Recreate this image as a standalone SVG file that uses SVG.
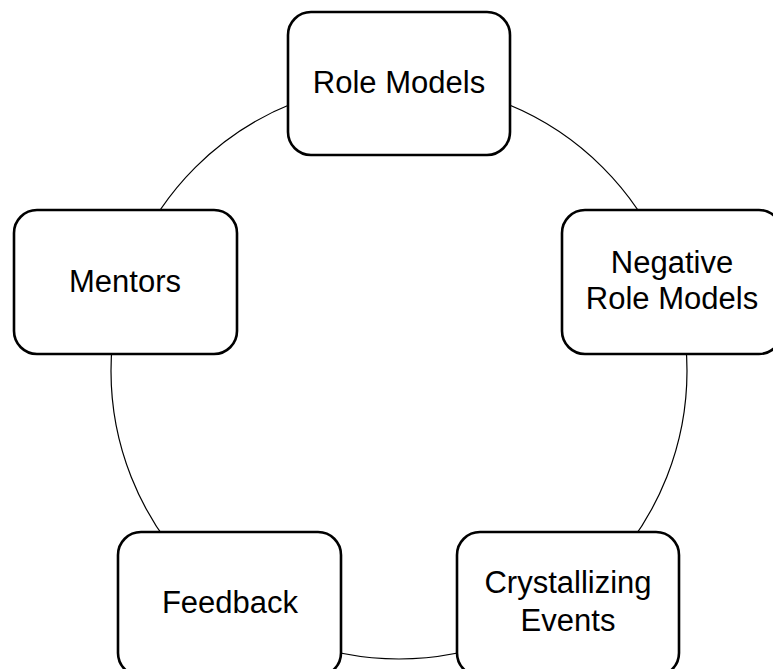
<svg xmlns="http://www.w3.org/2000/svg" width="773" height="669" viewBox="0 0 773 669">
  <style>
    .box { fill: #ffffff; stroke: #000000; stroke-width: 2.6; }
    .ring { fill: none; stroke: #000000; stroke-width: 1.2; }
    .label { font-family: "Liberation Sans", Arial, sans-serif; font-size: 31px; fill: #000000; text-anchor: middle; }
  </style>
  <rect width="773" height="669" fill="#ffffff"/>

  <!-- cycle ring behind the nodes -->
  <g id="connectors">
    <circle class="ring" cx="399" cy="371" r="288"/>
  </g>

  <g id="role-models">
    <rect class="box" x="288" y="12" width="222" height="143" rx="23" ry="23"/>
    <text class="label" x="399" y="93">Role Models</text>
  </g>

  <g id="negative-role-models">
    <rect class="box" x="562" y="210" width="220" height="144" rx="23" ry="23"/>
    <text class="label" x="672" y="273">Negative</text>
    <text class="label" x="672" y="309">Role Models</text>
  </g>

  <g id="crystallizing-events">
    <rect class="box" x="457" y="532" width="222" height="144" rx="23" ry="23"/>
    <text class="label" x="568" y="593">Crystallizing</text>
    <text class="label" x="568" y="631">Events</text>
  </g>

  <g id="feedback">
    <rect class="box" x="118" y="532" width="223" height="144" rx="23" ry="23"/>
    <text class="label" x="230" y="613">Feedback</text>
  </g>

  <g id="mentors">
    <rect class="box" x="14" y="210" width="223" height="144" rx="23" ry="23"/>
    <text class="label" x="125" y="292">Mentors</text>
  </g>
</svg>
